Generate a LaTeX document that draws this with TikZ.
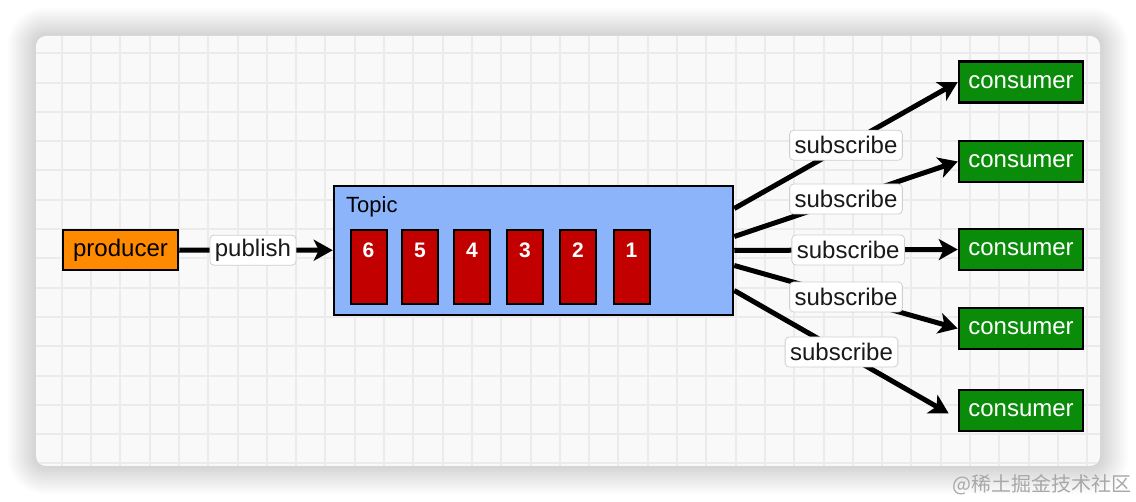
\documentclass[tikz,border=0pt]{standalone}
\usepackage{fontspec}
\setmainfont{Liberation Sans}
\newfontfamily\cjkfont{Noto Sans CJK SC}
\usetikzlibrary{arrows.meta}

\definecolor{cardbg}{HTML}{F9F9F9}
\definecolor{gridgray}{HTML}{EBEBEB}
\definecolor{prodorange}{HTML}{FF8A00}
\definecolor{topicblue}{HTML}{8CB4FA}
\definecolor{partred}{HTML}{C20000}
\definecolor{consgreen}{HTML}{0A8C0A}
\definecolor{tagborder}{HTML}{CFCFCF}
\definecolor{markgray}{HTML}{A8A8A8}

\tikzset{
  box/.style={draw=black, line width=2.5pt, inner sep=0pt, font=\fontsize{24}{28}\selectfont},
  producerbox/.style={box, fill=prodorange, minimum width=115pt, minimum height=40pt},
  topicbox/.style={box, fill=topicblue, minimum width=399pt, minimum height=129pt},
  partbox/.style={box, line width=2pt, fill=partred, minimum width=36pt, minimum height=74pt},
  partnum/.style={text=white, inner sep=0pt, font=\fontsize{21}{24}\selectfont\bfseries},
  consumerbox/.style={box, fill=consgreen, text=white, minimum width=124pt, minimum height=41pt},
  tag/.style={draw=tagborder, line width=0.8pt, fill=white, rounded corners=4pt,
    inner xsep=5pt, inner ysep=0pt, minimum height=30pt, text=black!90,
    font=\fontsize{24}{28}\selectfont},
  flow/.style={line width=5pt, -{Stealth[length=19pt, width=21pt, inset=5pt]}},
  gridline/.style={draw=gridgray, line width=2pt}
}

\begin{document}
\begin{tikzpicture}[x=1pt, y=-1pt]
  \useasboundingbox (0,0) rectangle (1136,502);
  \fill[white] (0,0) rectangle (1136,502);

  % Card with shadow and grid
  \foreach \s in {1,...,14}
    \fill[black, opacity=0.011, rounded corners=10+\s*2]
      (36-\s*2,36-\s*2) rectangle (1100+\s*2,466+\s*2);
  \fill[cardbg, rounded corners=10] (36,36) rectangle (1100,466);
  \begin{scope}
    \clip[rounded corners=10] (36,36) rectangle (1100,466);
    \foreach \gx in {32.4,61.7,...,1100}
      \draw[gridline] (\gx,36) -- (\gx,466);
    \foreach \gy in {24,53.3,...,466}
      \draw[gridline] (36,\gy) -- (1100,\gy);
  \end{scope}

  % Producer
  \node[producerbox] (producer) at (120.5,250) {producer};

  % Topic with its partitions
  \node[topicbox] (topic) at (533.5,250.5) {};
  \node[anchor=west, inner sep=0pt, font=\fontsize{22}{26}\selectfont] (topiclabel) at (346,207) {Topic};

  \node[partbox] (p6) at (368.5,267.5) {};
  \node[partbox] (p5) at (420,267.5) {};
  \node[partbox] (p4) at (472,267.5) {};
  \node[partbox] (p3) at (525,267.5) {};
  \node[partbox] (p2) at (578,267.5) {};
  \node[partbox] (p1) at (631.5,267.5) {};

  \node[partnum] (n6) at (368.5,250.5) {6};
  \node[partnum] (n5) at (420,250.5) {5};
  \node[partnum] (n4) at (472,250.5) {4};
  \node[partnum] (n3) at (525,250.5) {3};
  \node[partnum] (n2) at (578,250.5) {2};
  \node[partnum] (n1) at (631.5,250.5) {1};

  % Consumers
  \node[consumerbox] (c1) at (1021,82) {consumer};
  \node[consumerbox] (c2) at (1021,161.5) {consumer};
  \node[consumerbox] (c3) at (1021,249.5) {consumer};
  \node[consumerbox] (c4) at (1021,328.5) {consumer};
  \node[consumerbox] (c5) at (1021,410.5) {consumer};

  \draw[flow] (producer) -- node[tag, pos=0.48] {publish} (topic);

  \draw[flow] ([yshift=42pt]topic.east) -- node[tag] {subscribe} (c1.west);
  \draw[flow] ([yshift=14pt]topic.east) -- node[tag] {subscribe} (c2.west);
  \draw[flow] (topic.east) -- node[tag, pos=0.51] {subscribe} (c3.west);
  \draw[flow] ([yshift=-15pt]topic.east) -- node[tag] {subscribe} (c4.west);
  \draw[flow] ([yshift=-40pt]topic.east) -- node[tag] {subscribe} ([xshift=-9pt, yshift=-3pt]c5.west);

  % Watermark
  \node[text=markgray, inner sep=0pt, font=\cjkfont\fontsize{20}{24}\selectfont] (mark) at (1042,485) {@稀土掘金技术社区};
\end{tikzpicture}
\end{document}
